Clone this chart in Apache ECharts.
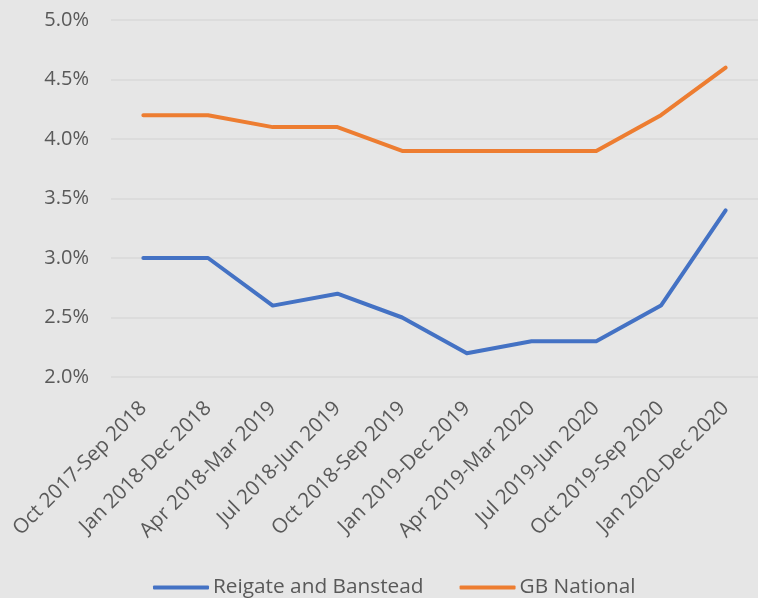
<!DOCTYPE html>
<html>
<head>
<meta charset="utf-8">
<script src="https://cdn.jsdelivr.net/npm/echarts@6/dist/echarts.min.js"></script>
<style>
  html, body { margin: 0; padding: 0; background: #e6e6e6; }
  #chart { width: 758px; height: 598px; }
</style>
</head>
<body>
<div id="chart"></div>
<script>
// Rolling 12-month periods
const periods = [
  'Oct 2017-Sep 2018', 'Jan 2018-Dec 2018', 'Apr 2018-Mar 2019', 'Jul 2018-Jun 2019',
  'Oct 2018-Sep 2019', 'Jan 2019-Dec 2019', 'Apr 2019-Mar 2020', 'Jul 2019-Jun 2020',
  'Oct 2019-Sep 2020', 'Jan 2020-Dec 2020'
];
// Rates in percent
const reigateBanstead = [3.0, 3.0, 2.6, 2.7, 2.5, 2.2, 2.3, 2.3, 2.6, 3.4];
const gbNational = [4.2, 4.2, 4.1, 4.1, 3.9, 3.9, 3.9, 3.9, 4.2, 4.6];

const font = '"Open Sans", "Noto Sans", sans-serif';
const textColor = '#595959';

const chart = echarts.init(document.getElementById('chart'));
chart.setOption({
  backgroundColor: '#e6e6e6',
  animation: false,
  grid: { left: 111, top: 20, width: 650, height: 357, containLabel: false },
  legend: {
    bottom: -5,
    left: 148,
    itemWidth: 56,
    itemHeight: 4,
    itemGap: 36,
    icon: 'roundRect',
    textStyle: { color: textColor, fontSize: 20.8, fontFamily: font, padding: [0, 0, 0, -1] },
    data: ['Reigate and Banstead', 'GB National']
  },
  xAxis: {
    type: 'category',
    data: periods,
    boundaryGap: true,
    axisLine: { show: false },
    axisTick: { show: false },
    axisLabel: {
      rotate: 45,
      interval: 0,
      margin: 28,
      color: textColor,
      fontSize: 20.5,
      fontFamily: font
    }
  },
  yAxis: {
    type: 'value',
    min: 2.0,
    max: 5.0,
    interval: 0.5,
    axisLine: { show: false },
    axisTick: { show: false },
    splitLine: { lineStyle: { color: '#d9d9d9', width: 1.5 } },
    axisLabel: {
      margin: 22,
      color: textColor,
      fontSize: 20,
      fontFamily: font,
      formatter: v => v.toFixed(1) + '%'
    }
  },
  series: [
    {
      name: 'Reigate and Banstead',
      type: 'line',
      data: reigateBanstead,
      symbol: 'none',
      color: '#4472c4',
      lineStyle: { width: 4, cap: 'round', join: 'round' }
    },
    {
      name: 'GB National',
      type: 'line',
      data: gbNational,
      symbol: 'none',
      color: '#ed7d31',
      lineStyle: { width: 4, cap: 'round', join: 'round' }
    }
  ]
});
</script>
</body>
</html>
